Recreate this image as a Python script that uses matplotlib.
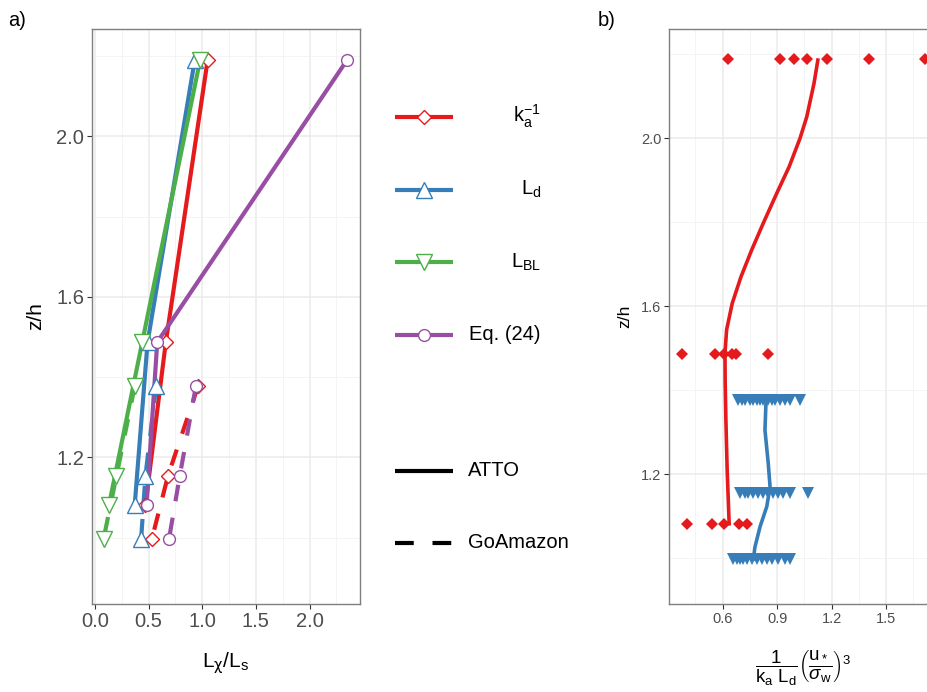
import numpy as np
import matplotlib
matplotlib.use('Agg')
import matplotlib.pyplot as plt
from matplotlib.ticker import MultipleLocator, FormatStrFormatter
from matplotlib import rcParams
rcParams.update({'font.family': 'Liberation Sans', 'mathtext.fontset': 'custom',
                 'mathtext.rm': 'Liberation Sans', 'mathtext.it': 'Liberation Sans:italic',
                 'mathtext.bf': 'Liberation Sans:bold', 'mathtext.sf': 'DejaVu Sans'})

# ============= PANEL A DATA =============
z_atto = [2.19, 1.487, 1.081]
z_goam = [1.377, 1.154, 0.997]

ka_atto = [1.05, 0.66, 0.47]
ld_atto = [0.93, 0.49, 0.37]
lbl_atto = [0.98, 0.44, 0.13]
eq24_atto = [2.35, 0.58, 0.48]

ka_goam = [0.96, 0.68, 0.53]
ld_goam = [0.57, 0.47, 0.43]
lbl_goam = [0.37, 0.20, 0.08]
eq24_goam = [0.94, 0.79, 0.69]

series_names = [r'$\mathregular{k_a^{-1}}$', r'$\mathregular{L_d}$', r'$\mathregular{L_{BL}}$', 'Eq. (24)']
series_colors = ['#E41A1C', '#377EB8', '#4DAF4A', '#984EA3']
series_markers = ['D', '^', 'v', 'o']
series_msize = [7.5, 11, 11, 8.5]

# ============= PANEL B DATA =============
z_red_pts = [2.189, 1.487, 1.082]
red_pts_top = [0.631, 0.916, 0.993, 1.063, 1.173, 1.403, 1.715]
red_pts_mid = [0.379, 0.558, 0.607, 0.650, 0.673, 0.848]
red_pts_low = [0.402, 0.539, 0.607, 0.692, 0.736]

z_blue_pts = [1.377, 1.155, 0.998]
blue_pts_top = [0.686, 0.705, 0.723, 0.750, 0.769, 0.787, 0.806, 0.824, 0.851,
                0.870, 0.888, 0.916, 0.943, 0.971, 1.026]
blue_pts_mid = [0.695, 0.723, 0.741, 0.769, 0.796, 0.824, 0.851, 0.879, 0.907,
                0.934, 0.971, 1.072]
blue_pts_low = [0.658, 0.677, 0.695, 0.714, 0.732, 0.760, 0.787, 0.815, 0.843,
                0.870, 0.907, 0.943, 0.971]

red_fit_z = [2.186, 2.131, 2.051, 2.0, 1.932, 1.869, 1.798, 1.734, 1.670, 1.607,
             1.544, 1.488, 1.420, 1.329, 1.210, 1.082]
red_fit_x = [1.124, 1.103, 1.063, 1.026, 0.966, 0.898, 0.824, 0.760, 0.701, 0.653,
             0.622, 0.613, 0.614, 0.618, 0.625, 0.636]
blue_fit_z = [1.377, 1.305, 1.226, 1.170, 1.123, 1.075, 1.027, 0.998]
blue_fit_x = [0.839, 0.833, 0.851, 0.861, 0.843, 0.806, 0.778, 0.769]

W, H = 928, 692
fig = plt.figure(figsize=(W/100, H/100), dpi=100)


def px_axes(x0, y0, x1, y1):
    return fig.add_axes([x0/W, 1 - y1/H, (x1-x0)/W, (y1-y0)/H])


def style_axes(ax, tick_size):
    ax.set_axisbelow(True)
    ax.grid(which='major', color='#EBEBEB', lw=1.1)
    ax.grid(which='minor', color='#F2F2F2', lw=0.6)
    for s in ax.spines.values():
        s.set_color('#7F7F7F')
        s.set_linewidth(1.0)
    ax.tick_params(which='major', length=3.5, width=0.8, color='#333333',
                   labelcolor='#4D4D4D', labelsize=tick_size, pad=2)
    ax.tick_params(which='minor', length=0)
    ax.xaxis.set_major_formatter(FormatStrFormatter('%.1f'))
    ax.yaxis.set_major_formatter(FormatStrFormatter('%.1f'))


# ============= PANEL A =============
ax0 = px_axes(92, 29, 360, 604)
atto_sets = [ka_atto, ld_atto, lbl_atto, eq24_atto]
goam_sets = [ka_goam, ld_goam, lbl_goam, eq24_goam]
for i in range(4):
    c = series_colors[i]
    ax0.plot(atto_sets[i], z_atto, color=c, lw=3, solid_capstyle='butt', zorder=2)
    ax0.plot(goam_sets[i], z_goam, color=c, lw=3, dashes=(4, 4), dash_capstyle='butt', zorder=2)
for i in range(4):
    c = series_colors[i]
    for xs, zs in [(atto_sets[i], z_atto), (goam_sets[i], z_goam)]:
        ax0.plot(xs, zs, ls='none', marker=series_markers[i], ms=series_msize[i],
                 mfc='white', mec=c, mew=1.0, zorder=3)

ax0.set_xlim(-0.028, 2.47)
ax0.set_ylim(0.835, 2.267)
ax0.xaxis.set_major_locator(MultipleLocator(0.5))
ax0.xaxis.set_minor_locator(MultipleLocator(0.25))
ax0.set_yticks([1.2, 1.6, 2.0])
ax0.set_yticks([1.0, 1.4, 1.8, 2.2], minor=True)
style_axes(ax0, 14.5)
ax0.set_xlabel(r'$\mathregular{L_{\mathsf{χ}}/L_s}$', fontsize=15, labelpad=14)
ax0.set_ylabel('z/h', fontsize=15, labelpad=8)

# ============= PANEL B =============
ax1 = px_axes(669, 29, 938, 604)
ax1.plot(red_fit_x, red_fit_z, color='#E41A1C', lw=2.6, zorder=3)
ax1.plot(blue_fit_x, blue_fit_z, color='#377EB8', lw=2.6, zorder=3)
for xs, zv in zip([red_pts_top, red_pts_mid, red_pts_low], z_red_pts):
    ax1.plot(xs, [zv]*len(xs), ls='none', marker='D', ms=6, mfc='#E41A1C',
             mec='#E41A1C', mew=0, zorder=4)
for xs, zv in zip([blue_pts_top, blue_pts_mid, blue_pts_low], z_blue_pts):
    ax1.plot(xs, [zv]*len(xs), ls='none', marker='v', ms=8.5, mfc='#377EB8',
             mec='#377EB8', mew=0, zorder=4)

ax1.set_xlim(0.305, 1.785)
ax1.set_ylim(0.891, 2.26)
ax1.set_xticks([0.6, 0.9, 1.2, 1.5])
ax1.set_xticks([0.45, 0.75, 1.05, 1.35, 1.65], minor=True)
ax1.set_yticks([1.2, 1.6, 2.0])
ax1.set_yticks([1.0, 1.4, 1.8, 2.2], minor=True)
style_axes(ax1, 10.5)
ax1.set_xlabel(r'$\dfrac{1}{\mathregular{k_a\ L_d}}\left(\dfrac{\mathregular{u_*}}{\sigma_{\mathregular{w}}}\right)^{3}$',
               fontsize=13.5, labelpad=16)
ax1.set_ylabel('z/h', fontsize=12.5, labelpad=6)

# ============= LEGENDS (drawn in pixel space) =============
leg = px_axes(0, 0, W, H)
leg.set_xlim(0, W)
leg.set_ylim(H, 0)
leg.axis('off')
key_y = [116.5, 189.5, 262, 335]
for i in range(4):
    c = series_colors[i]
    leg.plot([395, 453], [key_y[i]]*2, color=c, lw=3, solid_capstyle='butt')
    leg.plot([424], [key_y[i]], ls='none', marker=series_markers[i], ms=series_msize[i],
             mfc='white', mec=c, mew=1.0)
    leg.text(541, key_y[i], series_names[i], ha='right', va='center', fontsize=14.5)
leg.plot([395, 453], [470.5]*2, color='black', lw=3, solid_capstyle='butt')
leg.plot([395, 453], [543]*2, color='black', lw=3, dashes=(4.5, 4.5), dash_capstyle='butt')
leg.text(468, 470.5, 'ATTO', ha='left', va='center', fontsize=14.5)
leg.text(468, 543, 'GoAmazon', ha='left', va='center', fontsize=14.5)

leg.text(8, 20, 'a)', ha='left', va='center', fontsize=14.5)
leg.text(598, 20, 'b)', ha='left', va='center', fontsize=14.5)

fig.savefig('out.png', dpi=100)
